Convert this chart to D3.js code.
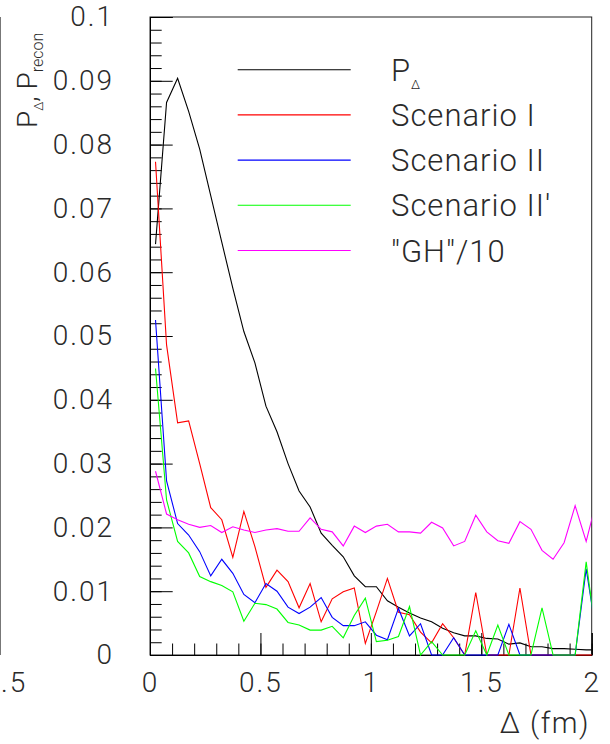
<!DOCTYPE html>
<html>
<head>
<meta charset="utf-8">
<script src="https://cdn.jsdelivr.net/npm/d3@7"></script>
<style>
  html, body { margin: 0; padding: 0; background: #fff; }
  svg { display: block; }
  text { font-family: Roboto, "DejaVu Sans", sans-serif; font-weight: 300; fill: #2a2a2a; }
</style>
</head>
<body>
<svg id="chart" width="610" height="744"></svg>
<script>
// Bin centres of Δ (fm)
const delta = [0.025, 0.075, 0.125, 0.175, 0.225, 0.275, 0.325, 0.375, 0.425, 0.475,
               0.525, 0.575, 0.625, 0.675, 0.725, 0.775, 0.825, 0.875, 0.925, 0.975,
               1.025, 1.075, 1.125, 1.175, 1.225, 1.275, 1.325, 1.375, 1.425, 1.475,
               1.525, 1.575, 1.625, 1.675, 1.725, 1.775, 1.825, 1.875, 1.925, 1.975, 2.025];

// P_Δ distribution
const pDelta = [0.0644, 0.0866, 0.0904, 0.0852, 0.0793, 0.0720, 0.0647, 0.0575, 0.0507, 0.0458,
                0.0390, 0.0350, 0.0300, 0.0257, 0.0232, 0.0191, 0.0172, 0.0154, 0.0124, 0.0107,
                0.0107, 0.0085, 0.0075, 0.0066, 0.0058, 0.0052, 0.0042, 0.0035, 0.0030, 0.0030,
                0.0026, 0.0025, 0.0017, 0.0019, 0.0013, 0.0013, 0.0010, 0.0010, 0.0009, 0.0008, 0.0008];

// Reconstructed distributions
const scenarioI = [0.0773, 0.0486, 0.0364, 0.0367, 0.0300, 0.0231, 0.0212, 0.0153, 0.0225, 0.0170,
                   0.0106, 0.0133, 0.0115, 0.0074, 0.0112, 0.0052, 0.0088, 0.0099, 0.0105, 0.0018,
                   0.0068, 0.0120, 0.0067, 0.0063, 0.0036, 0.0019, 0.0049, 0.0027, 0, 0.0098,
                   0, 0, 0, 0.0105, 0, 0, 0, 0, 0, 0, 0];

const scenarioII = [0.0525, 0.0273, 0.0206, 0.0188, 0.0162, 0.0124, 0.0150, 0.0128, 0.0095, 0.0082,
                    0.0112, 0.0100, 0.0075, 0.0065, 0.0075, 0.0090, 0.0059, 0.0046, 0.0046, 0.0052,
                    0.0031, 0.0024, 0.0073, 0.0030, 0.0049, 0, 0, 0.0027, 0, 0,
                    0, 0, 0.0048, 0, 0, 0, 0, 0, 0, 0.0135, 0.0025];

const scenarioIIp = [0.0449, 0.0243, 0.0178, 0.0160, 0.0123, 0.0115, 0.0109, 0.0099, 0.0053, 0.0081,
                     0.0079, 0.0072, 0.0051, 0.0047, 0.0039, 0.0039, 0.0045, 0.0027, 0.0062, 0.0089,
                     0.0021, 0.0023, 0.0029, 0.0076, 0, 0.0021, 0, 0, 0, 0.0038,
                     0, 0.0047, 0, 0, 0, 0.0074, 0, 0, 0, 0.0146, 0.0017];

const gh10 = [0.0288, 0.0221, 0.0212, 0.0205, 0.0200, 0.0203, 0.0192, 0.0201, 0.0196, 0.0192,
              0.0196, 0.0198, 0.0194, 0.0194, 0.0215, 0.0197, 0.0193, 0.0171, 0.0202, 0.0192,
              0.0202, 0.0205, 0.0193, 0.0193, 0.0191, 0.0208, 0.0199, 0.0171, 0.0178, 0.0219,
              0.0193, 0.0179, 0.0175, 0.0209, 0.0197, 0.0164, 0.0150, 0.0176, 0.0234, 0.0178, 0.0246];

const seriesNames = ["P_Δ", "Scenario I", "Scenario II", "Scenario II'", "\"GH\"/10"];
const seriesColors = ["#000000", "#ff0000", "#0000ff", "#00ff00", "#ff00ff"];
const seriesValues = [pDelta, scenarioI, scenarioII, scenarioIIp, gh10];

const xTickValues = [0, 0.5, 1, 1.5, 2];
const xTickLabels = ["0", "0.5", "1", "1.5", "2"];
const yTickValues = [0, 0.01, 0.02, 0.03, 0.04, 0.05, 0.06, 0.07, 0.08, 0.09, 0.1];
const yTickLabels = ["0", "0.01", "0.02", "0.03", "0.04", "0.05", "0.06", "0.07", "0.08", "0.09", "0.1"];

const svg = d3.select("#chart");
const plot = { left: 150, right: 591.7, top: 17, bottom: 655 };

const x = d3.scaleLinear().domain([0, 2]).range([plot.left, plot.right]);
const y = d3.scaleLinear().domain([0, 0.1]).range([plot.bottom, plot.top]);

// Edge of the neighbouring pad on the left, with the tail of its last label
svg.append("line").attr("x1", 0.5).attr("x2", 0.5).attr("y1", plot.top).attr("y2", plot.bottom)
  .attr("stroke", "#777").attr("stroke-width", 1);
svg.append("text").attr("x", 1).attr("y", 692).attr("text-anchor", "start")
  .style("font-size", "28px").style("letter-spacing", "2px").text(".5");

// Clip for the curves
svg.append("defs").append("clipPath").attr("id", "plotClip")
  .append("rect").attr("x", plot.left).attr("y", plot.top)
  .attr("width", plot.right - plot.left).attr("height", plot.bottom - plot.top + 1);

// Frame
svg.append("rect").attr("x", plot.left).attr("y", plot.top)
  .attr("width", plot.right - plot.left).attr("height", plot.bottom - plot.top)
  .attr("fill", "none").attr("stroke", "#222").attr("stroke-width", 1);

// Y axis: minor ticks, then major ticks with labels
const yMinor = d3.range(0, 51).map(i => i * 0.002);
svg.append("g").attr("transform", `translate(${plot.left},0)`)
  .call(d3.axisLeft(y).tickValues(yMinor).tickSize(-11.7).tickFormat(""))
  .call(g => g.select(".domain").remove());
svg.append("g").attr("class", "yaxis").attr("transform", `translate(${plot.left},0)`)
  .call(d3.axisLeft(y).tickValues(yTickValues).tickSize(-22.7).tickPadding(36)
    .tickFormat((d, i) => yTickLabels[i]))
  .call(g => g.select(".domain").attr("stroke", "#000"))
  .call(g => g.selectAll("text").attr("fill", "#2a2a2a")
    .style("font-size", "28px").style("letter-spacing", "2px").style("font-family", "Roboto, sans-serif")
    .style("font-weight", 300));

// X axis: minor ticks, then major ticks with labels
const xMinor = d3.range(0, 21).map(i => i * 0.1);
svg.append("g").attr("transform", `translate(0,${plot.bottom})`)
  .call(d3.axisBottom(x).tickValues(xMinor).tickSize(-11.5).tickFormat(""))
  .call(g => g.select(".domain").remove());
svg.append("g").attr("transform", `translate(0,${plot.bottom})`)
  .call(d3.axisBottom(x).tickValues(xTickValues).tickSize(-22).tickPadding(17)
    .tickFormat((d, i) => xTickLabels[i]))
  .call(g => g.select(".domain").attr("stroke", "#000"))
  .call(g => g.selectAll("text").attr("fill", "#2a2a2a")
    .style("font-size", "28px").style("letter-spacing", "2px").style("font-family", "Roboto, sans-serif")
    .style("font-weight", 300));

// Curves
const line = d3.line().x((d, i) => x(delta[i])).y(d => y(d));
const curves = svg.append("g").attr("clip-path", "url(#plotClip)");
seriesValues.forEach((vals, s) => {
  curves.append("path").datum(vals)
    .attr("d", line).attr("fill", "none")
    .attr("stroke", seriesColors[s]).attr("stroke-width", 1.1);
});

// Legend
const legend = svg.append("g");
seriesNames.forEach((name, s) => {
  const ly = 69.7 + s * 45.2;
  legend.append("line").attr("x1", 237.7).attr("x2", 350.7).attr("y1", ly).attr("y2", ly)
    .attr("stroke", seriesColors[s]).attr("stroke-width", 1.1);
  const t = legend.append("text").attr("x", 391).attr("y", ly + 11)
    .style("font-size", "31px").style("letter-spacing", "1px");
  if (name === "P_Δ") {
    t.append("tspan").text("P");
    t.append("tspan").attr("dy", 8).style("font-size", "13px").text("Δ");
  } else {
    t.text(name);
  }
});

// Axis titles
svg.append("text").attr("x", 590).attr("y", 733).attr("text-anchor", "end")
  .style("font-size", "29px").style("letter-spacing", "1.5px").text("Δ (fm)");

const yt = svg.append("text").attr("transform", "translate(37,128) rotate(-90)")
  .style("font-size", "28px");
yt.append("tspan").text("P");
yt.append("tspan").attr("dy", 6).style("font-size", "13px").text("Δ");
yt.append("tspan").attr("dy", -6).text(", P");
yt.append("tspan").attr("dy", 6).style("font-size", "16px").text("recon");
</script>
</body>
</html>
